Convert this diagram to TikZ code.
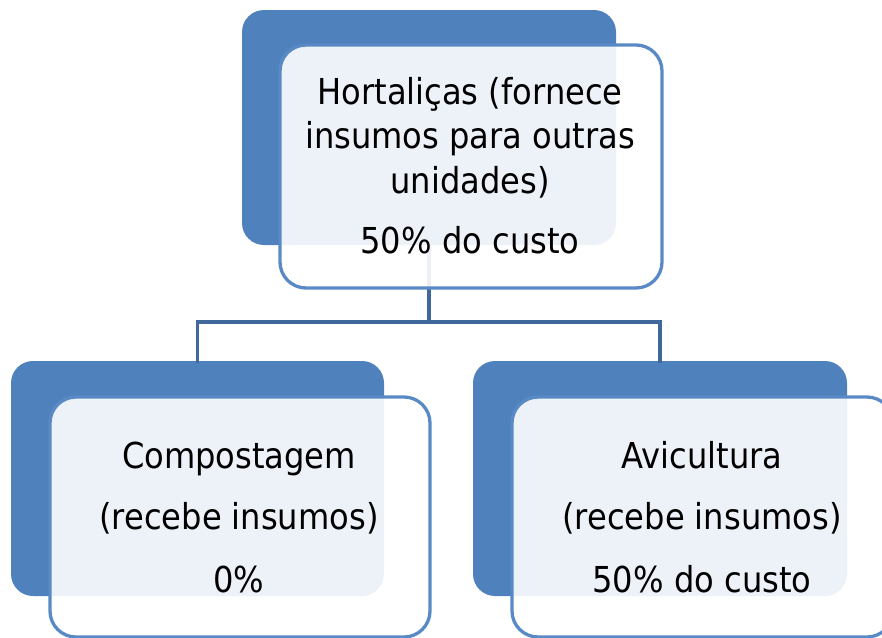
\documentclass[tikz,border=0pt]{standalone}
\usepackage{fontspec}
\setmainfont{DejaVu Sans}[FakeStretch=0.9]
\definecolor{backblue}{HTML}{4F81BD}
\definecolor{frontline}{HTML}{5A8AC6}
\definecolor{conn}{HTML}{41689A}
\begin{document}
\begin{tikzpicture}[x=1pt,y=-1pt,
  backbox/.style={draw=none,fill=backblue,rounded corners=22pt,inner sep=0pt,outer sep=0pt},
  frontbox/.style={draw=frontline,line width=3.3pt,fill=white,fill opacity=0.9,rounded corners=26pt,inner sep=0pt,outer sep=0pt},
  txt/.style={anchor=base,inner sep=0pt,font=\fontsize{35.7}{42}\selectfont,text=black},
  connline/.style={draw=conn,line width=3.6pt}]
\useasboundingbox (0,0) rectangle (882,637);
% back boxes
\node[backbox,minimum width=374pt,minimum height=235pt] (hback) at (429,127.5) {};
\node[backbox,minimum width=373pt,minimum height=235pt] (lback) at (197.5,478.5) {};
\node[backbox,minimum width=374pt,minimum height=235pt] (rback) at (660,478.5) {};
% connectors
\coordinate (junc) at (429,322);
\draw[connline] (hback.south) -- (junc);
\draw[connline,line cap=rect] (junc) -| (lback.north);
\draw[connline,line cap=rect] (junc) -| (rback.north);
% front boxes
\node[frontbox,minimum width=382pt,minimum height=243pt] (hfront) at (471,166.5) {};
\node[frontbox,minimum width=380pt,minimum height=240pt] (lfront) at (240,517) {};
\node[frontbox,minimum width=381pt,minimum height=240pt] (rfront) at (702.5,517) {};
% texts
\node[txt] (h1) at (470,104) {Hortaliças (fornece};
\node[txt] (h2) at (470,148.5) {insumos para outras};
\node[txt] (h3) at (470,193) {unidades)};
\node[txt] (h4) at (470,253) {50\% do custo};
\node[txt] (l1) at (239,468) {Compostagem};
\node[txt] (l2) at (239,529) {(recebe insumos)};
\node[txt] (l3) at (239,592) {0\%};
\node[txt] (r1) at (702,468) {Avicultura};
\node[txt] (r2) at (702,529) {(recebe insumos)};
\node[txt] (r3) at (702,592) {50\% do custo};
\end{tikzpicture}
\end{document}
